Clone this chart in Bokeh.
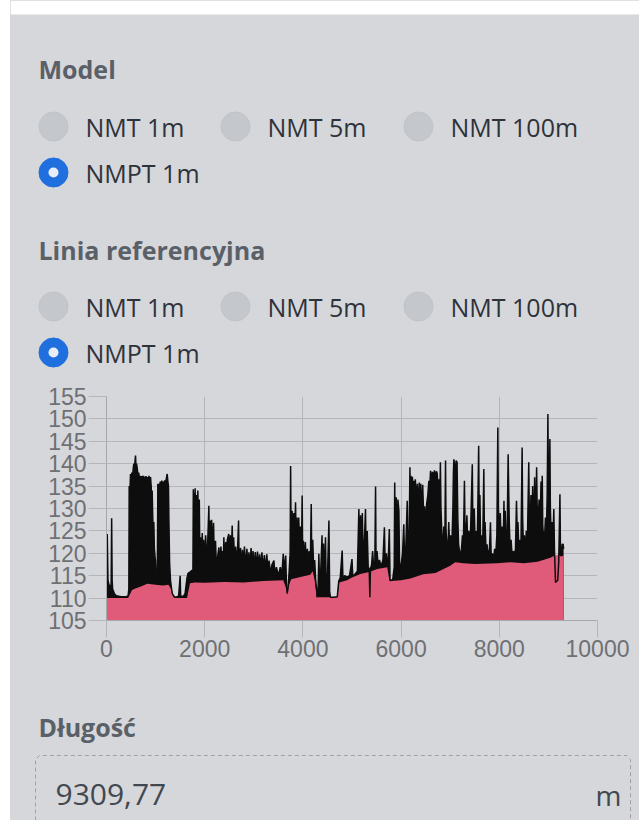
from bokeh.plotting import figure
from bokeh.layouts import column, row
from bokeh.models import Range1d, FixedTicker, Spacer
from bokeh.core.properties import value
from bokeh.embed import file_html
from bokeh.resources import INLINE

# ---------------- data ----------------
distance_ticks = [0, 2000, 4000, 6000, 8000, 10000]
elevation_ticks = [105, 110, 115, 120, 125, 130, 135, 140, 145, 150, 155]

terrain_x = [0, 440, 520, 600, 700, 830, 1000, 1150, 1260, 1320, 1380, 1640, 1700, 1800, 2000,
             2400, 2800, 3200, 3600, 3650, 3680, 3720, 3760, 3950, 4150, 4200, 4240, 4280, 4700,
             4740, 4900, 5000, 5170, 5350, 5515, 5718, 5760, 5800, 6000, 6190, 6450, 6700, 7000,
             7100, 7270, 7500, 7960, 8230, 8500, 8780, 9040, 9130, 9200, 9260, 9310]
terrain_y = [110.0, 110.0, 111.8, 112.2, 112.6, 113.2, 113.0, 112.8, 113.0, 112.0, 110.0, 110.0,
             113.3, 113.5, 113.4, 113.6, 113.5, 113.8, 114.0, 112.5, 111.5, 113.0, 114.2, 114.7,
             115.2, 116.0, 114.0, 110.2, 110.2, 113.5, 114.0, 114.6, 115.4, 115.8, 116.5, 116.9,
             114.0, 113.8, 114.0, 114.4, 115.3, 115.6, 117.2, 118.0, 117.8, 117.6, 117.8, 118.0,
             117.8, 118.1, 119.0, 119.5, 119.6, 119.3, 119.5]

surface_x = [0, 15, 30, 50, 70, 95, 105, 115, 125, 160, 200, 300, 400, 440,
             455, 462, 475, 489, 500, 515, 530, 545, 557, 570, 580, 591, 600, 612, 625, 640, 655,
             670, 685, 700, 715, 730, 745, 760, 775, 790, 805, 820, 835, 850, 865, 880, 897, 910,
             920, 930, 942, 955, 964, 975, 990, 998, 1010, 1020, 1035,
             1046, 1055, 1066, 1080, 1095, 1110, 1125, 1140, 1155, 1170, 1185, 1200, 1215, 1236,
             1250, 1262, 1270, 1285, 1304, 1320, 1340, 1380, 1420, 1470, 1500, 1510, 1560, 1600,
             1640, 1660, 1700, 1740,
             1760, 1768, 1775, 1785, 1795, 1805, 1815, 1830, 1845, 1860, 1875, 1890, 1900, 1915,
             1930, 1950, 1965, 1980, 2000, 2020, 2040, 2060, 2085, 2095, 2110, 2125, 2140, 2160,
             2180, 2195, 2220, 2240, 2260, 2290, 2310, 2330, 2350, 2360, 2375, 2390, 2410, 2430,
             2450, 2460, 2490, 2505, 2525, 2540, 2560, 2575, 2590, 2610, 2630, 2650, 2670, 2690,
             2700, 2730, 2750, 2770, 2790, 2810, 2830, 2860, 2880, 2900, 2920, 2945, 2965, 2985,
             3005, 3030, 3050, 3075, 3100, 3120, 3140, 3165, 3190, 3215, 3240, 3265, 3290, 3310,
             3340, 3370, 3410, 3430, 3460, 3500, 3540, 3570, 3600, 3620, 3650, 3665, 3680, 3700,
             3720,
             3740, 3750, 3760, 3780, 3795, 3815, 3830, 3850, 3865, 3880, 3895, 3915, 3935, 3950,
             3970, 3985, 3995, 4010, 4030, 4050, 4070, 4090, 4110, 4130, 4150, 4170, 4180, 4200,
             4220, 4240, 4260, 4280, 4290, 4310, 4325, 4340, 4360, 4390, 4400, 4420, 4440, 4460,
             4475, 4500, 4530, 4545, 4560, 4620, 4700, 4730, 4760, 4800, 4815, 4850, 4900, 4950,
             5000, 5015, 5050, 5080, 5110, 5140, 5155, 5175, 5190, 5210, 5230, 5250, 5275, 5290,
             5310, 5330, 5350, 5364, 5375, 5400, 5420, 5440, 5465, 5480, 5490, 5510, 5530, 5560,
             5590, 5630, 5660, 5675, 5700, 5720, 5740, 5760, 5775, 5785, 5830, 5860, 5870, 5880,
             5900, 5915, 5935, 5955, 5970, 6000, 6030, 6055, 6070, 6095, 6125, 6140, 6165, 6180,
             6190, 6200, 6215, 6230, 6245, 6260, 6275, 6290, 6310, 6330, 6350, 6370, 6390, 6400,
             6420, 6440, 6460, 6480, 6500, 6520, 6545, 6565, 6580, 6600, 6620, 6640, 6660, 6680,
             6700, 6720, 6735, 6750, 6770, 6785, 6800, 6812, 6830, 6850, 6870, 6890, 6905, 6915,
             6935, 6955, 6970, 6990, 7010, 7035, 7055, 7065, 7075, 7090, 7105, 7120, 7140, 7155,
             7170, 7190, 7210, 7230, 7250, 7265, 7290, 7300, 7320, 7340, 7360, 7380, 7400, 7420,
             7450, 7460, 7475, 7490, 7510, 7530, 7545, 7560, 7580, 7590, 7605, 7620, 7640, 7660,
             7685, 7695, 7710, 7730, 7750, 7770, 7800, 7820, 7835, 7860, 7885, 7905, 7925, 7950,
             7970, 7980, 8000, 8020, 8040, 8060, 8080, 8095, 8105, 8120, 8140, 8160, 8180, 8190,
             8205, 8220, 8240, 8260, 8290, 8310, 8330, 8350, 8365, 8380, 8400, 8420, 8440, 8465,
             8475, 8490, 8510, 8530, 8550, 8570, 8600, 8610, 8625, 8645, 8660, 8680, 8700, 8720,
             8740, 8760, 8770, 8790, 8810, 8830, 8850, 8865, 8875, 8885, 8900, 8920, 8940, 8960,
             8975, 8990, 9000, 9015, 9030, 9040, 9055, 9075, 9090, 9110, 9125, 9135, 9145, 9170,
             9190, 9210, 9235, 9245, 9265, 9280, 9300, 9310]
surface_y = [113.5, 124.3, 114.0, 113.0, 112.5, 113.0, 127.8, 114.0, 112.0, 111.0, 110.5, 110.3, 110.3, 110.5,
             112.0, 135.0, 133.0, 137.7, 136.0, 138.0, 137.0, 139.0, 140.0, 138.5, 140.5, 141.8, 139.5, 140.0, 139.0, 137.5, 138.0,
             136.8, 137.3, 136.5, 137.2, 136.8, 137.3, 136.0, 137.1, 136.4, 137.2, 136.5, 137.0, 136.2, 137.3, 136.5, 137.0, 135.0,
             131.0, 134.0, 128.0, 124.0, 127.0, 121.0, 119.0, 118.4, 115.0, 114.5, 115.5,
             135.5, 134.0, 135.5, 134.8, 136.0, 135.0, 136.2, 135.5, 136.0, 135.0, 136.3, 135.4, 136.5, 137.7,
             136.0, 135.0, 128.0, 118.0, 113.9, 112.5, 111.0, 110.3, 110.2, 110.5, 115.0, 110.5, 110.3, 111.0,
             114.5, 115.5, 115.8, 116.2,
             116.0, 134.3, 120.0, 133.5, 125.0, 134.5, 128.0, 133.0, 122.0, 134.0, 126.0, 132.0, 120.0, 123.6,
             117.0, 124.5, 119.0, 123.0, 118.0, 124.0, 118.5, 122.0, 130.6, 121.0, 127.3, 120.0, 127.5, 121.0,
             126.8, 119.0, 122.8, 116.5, 119.0, 121.3, 117.0, 121.5, 118.0, 120.5, 115.5, 123.6, 118.0, 122.5,
             117.5, 123.0, 124.3, 118.0, 124.0, 119.0, 126.2, 118.0, 123.6, 117.0, 121.5, 117.5, 121.0, 127.3,
             118.0, 121.2, 116.5, 120.8, 117.0, 121.5, 116.8, 121.0, 116.5, 120.2, 116.8, 121.2, 117.0, 120.5,
             116.6, 120.3, 116.5, 120.4, 116.8, 119.8, 116.2, 120.2, 116.5, 119.6, 116.3, 119.8, 116.0, 118.4,
             115.5, 117.5, 118.4, 115.2, 116.9, 115.0, 116.9, 115.0, 119.9, 116.0, 119.5, 113.0, 111.0, 112.5,
             116.0,
             120.0, 139.5, 122.0, 129.5, 121.0, 129.0, 122.0, 131.4, 121.0, 128.0, 120.5, 128.0, 121.0, 126.0,
             119.0, 132.9, 120.0, 122.8, 118.0, 122.5, 117.0, 121.0, 118.0, 120.5, 116.5, 131.0, 118.0, 123.0,
             116.5, 118.5, 114.0, 112.0, 110.2, 112.0, 119.9, 113.0, 115.0, 124.0, 114.0, 122.2, 113.5, 123.6,
             112.0, 114.5, 127.3, 111.5, 110.2, 110.2, 110.3, 113.8, 114.5, 120.6, 114.5, 115.0, 114.7, 115.0,
             118.7, 115.0, 115.2, 115.6, 116.0, 129.9, 118.0, 128.5, 117.0, 129.0, 118.0, 122.0, 129.9, 118.0,
             125.0, 117.0, 116.5, 110.2, 116.5, 117.5, 120.5, 117.0, 118.0, 134.9, 118.0, 120.5, 117.5, 118.5,
             117.0, 118.5, 125.8, 118.0, 120.0, 117.5, 119.0, 125.4, 114.0, 113.9, 114.2, 117.0, 135.8, 122.0,
             132.5, 121.0, 132.0, 129.5, 116.0, 117.5, 120.0, 126.5, 119.0, 121.0, 131.7, 120.0, 125.0, 139.2,
             128.0, 137.3, 134.0, 137.1, 133.0, 136.2, 130.0, 136.5, 131.0, 135.5, 130.0, 135.8, 128.0, 135.5,
             129.0, 135.3, 128.0, 130.5, 126.0, 131.0, 133.0, 136.2, 134.0, 138.4, 136.5, 138.2, 136.8, 138.5,
             137.0, 138.3, 137.8, 135.0, 136.5, 128.0, 140.3, 130.0, 124.5, 120.0, 126.0, 121.0, 140.7, 125.0,
             122.0, 120.0, 127.0, 121.0, 124.0, 122.0, 130.0, 138.0, 141.0, 139.5, 138.0, 140.7, 140.3, 128.0,
             122.0, 120.5, 119.5, 121.0, 124.0, 119.5, 136.2, 127.0, 123.0, 128.5, 121.0, 125.0, 120.0, 127.0,
             139.9, 128.0, 126.0, 130.0, 121.0, 125.0, 120.0, 128.0, 144.0, 129.0, 133.0, 121.0, 124.0, 120.0,
             138.8, 126.0, 127.0, 120.5, 122.0, 119.5, 121.0, 126.9, 119.0, 120.0, 118.5, 121.0, 119.0, 124.0,
             148.1, 130.0, 125.0, 129.0, 121.5, 126.0, 122.0, 131.7, 123.0, 129.5, 121.0, 124.0, 142.1, 135.0,
             126.0, 121.0, 123.0, 119.5, 120.5, 119.5, 121.0, 131.7, 125.0, 127.0, 120.0, 123.0, 120.5, 143.6,
             128.0, 122.0, 124.0, 120.0, 125.0, 121.0, 140.3, 130.0, 123.0, 133.0, 124.0, 135.0, 123.0, 137.0,
             124.0, 139.2, 131.0, 126.0, 132.0, 125.0, 136.0, 130.0, 137.3, 126.0, 124.0, 123.0, 128.0, 125.0,
             133.0, 151.1, 135.0, 131.0, 145.5, 130.0, 124.0, 127.0, 121.0, 129.9, 120.0, 117.0, 113.5, 113.8,
             114.0, 118.0, 133.2, 121.0, 119.5, 122.0, 122.0, 121.0]

model_options = ["NMT 1m", "NMT 5m", "NMT 100m", "NMPT 1m"]
model_selected = "NMPT 1m"
reference_options = ["NMT 1m", "NMT 5m", "NMT 100m", "NMPT 1m"]
reference_selected = "NMPT 1m"
length_value = "9309,77"
length_unit = "m"

# ---------------- style ----------------
X0 = 10                  # white strip on the left of the panel
W = 639 - X0
H1, H2, H3 = 383, 285, 152
TS = 9                   # empirical shift of the alphabetic baseline
PANEL = "#d6d7db"
HEAD = "#5a6068"
LABEL = "#2e333a"
GRID = "#b5b6ba"
FONT = value("Open Sans")


def ui_figure(h):
    f = figure(width=W, height=h, x_range=Range1d(X0, 639), y_range=Range1d(h, 0),
               toolbar_location=None, output_backend="svg", min_border=0, frame_align=False)
    f.axis.visible = False
    f.grid.visible = False
    f.outline_line_color = None
    f.background_fill_color = PANEL
    f.border_fill_color = PANEL
    return f


# ---------------- top panel: radio groups ----------------
top = ui_figure(H1)
top.quad(left=[X0], right=[639], top=[0], bottom=[14], fill_color="white", line_color=None)

col_x = [53, 235, 418]
label_dx = 32


def radio_group(f, title, title_base, row_y, options, selected):
    f.text(x=[38], y=[title_base - TS], text=[title], text_font=FONT,
           text_font_size="25px", text_font_style="bold", text_color=HEAD,
           text_baseline="alphabetic")
    xs = [col_x[i % 3] for i in range(len(options))]
    ys = [row_y[i // 3] for i in range(len(options))]
    sel = [i for i, o in enumerate(options) if o == selected]
    uns = [i for i, o in enumerate(options) if o != selected]
    f.scatter(x=[xs[i] for i in uns], y=[ys[i] for i in uns], size=29, marker="circle",
              fill_color="#c4c7cc", line_color="#c0c3c8")
    f.scatter(x=[xs[i] for i in sel], y=[ys[i] for i in sel], size=29, marker="circle",
              fill_color="#1f6fde", line_color="#1f6fde")
    f.scatter(x=[xs[i] for i in sel], y=[ys[i] for i in sel], size=10, marker="circle",
              fill_color="#e8eef8", line_color=None)
    f.text(x=[x + label_dx for x in xs], y=[y + 9 - TS for y in ys], text=options, text_font=FONT,
           text_font_size="25px", text_color=LABEL, text_baseline="alphabetic")


radio_group(top, "Model", 77, [126, 172], model_options, model_selected)
radio_group(top, "Linia referencyjna", 258, [306, 352], reference_options, reference_selected)

# ---------------- chart ----------------
chart = figure(width=W, height=H2, x_range=Range1d(0, 10000), y_range=Range1d(105, 155),
               toolbar_location=None, output_backend="svg", frame_align=False,
               min_border_left=106 - X0, min_border_right=42, min_border_top=13,
               min_border_bottom=48)
chart.background_fill_color = PANEL
chart.border_fill_color = PANEL
chart.outline_line_color = None

chart.varea(x=surface_x, y1=105, y2=surface_y, fill_color="#0d0d0d")
chart.varea(x=terrain_x, y1=105, y2=terrain_y, fill_color="#e05a7a")
chart.line(x=surface_x, y=surface_y, line_color="#0d0d0d", line_width=1.5)

chart.xaxis.ticker = FixedTicker(ticks=distance_ticks)
chart.yaxis.ticker = FixedTicker(ticks=elevation_ticks)
for ax in (chart.xaxis[0], chart.yaxis[0]):
    ax.major_label_text_font = "Liberation Sans"
    ax.major_label_text_font_size = "23px"
    ax.major_label_text_color = "#6e7074"
    ax.minor_tick_line_color = None
    ax.major_tick_in = 0
    ax.major_tick_line_color = GRID
    ax.axis_line_color = "#a6a7ab"
chart.xaxis.major_tick_out = 17
chart.xaxis.major_label_standoff = 2
chart.yaxis.major_tick_out = 18
chart.yaxis.major_label_standoff = 2
chart.grid.grid_line_color = GRID

# ---------------- bottom panel: length ----------------
bottom = ui_figure(H3)
B0 = H1 + H2
bottom.text(x=[38], y=[735 - B0 - TS], text=["Długość"], text_font=FONT, text_font_size="25px",
            text_font_style="bold", text_color=HEAD, text_baseline="alphabetic")
bottom.line(x=[35, 35, 39, 626, 630, 630], y=[H3, 755 - B0 + 4, 755 - B0, 755 - B0, 755 - B0 + 4, H3],
            line_color="#9fa1a5", line_width=1, line_dash="4 3")
bottom.text(x=[55], y=[803 - B0 - TS], text=[length_value], text_font=FONT,
            text_font_size="30px", text_color="#42484f", text_baseline="alphabetic")
bottom.text(x=[621], y=[803 - B0 - TS], text=[length_unit], text_font=FONT,
            text_font_size="28px", text_color="#42484f", text_baseline="alphabetic",
            text_align="right")

panel = column(top, chart, bottom, spacing=0, styles={"background-color": PANEL})
layout = row(Spacer(width=X0, height=820), panel, spacing=0)
open("out.html", "w").write(file_html(layout, INLINE))
